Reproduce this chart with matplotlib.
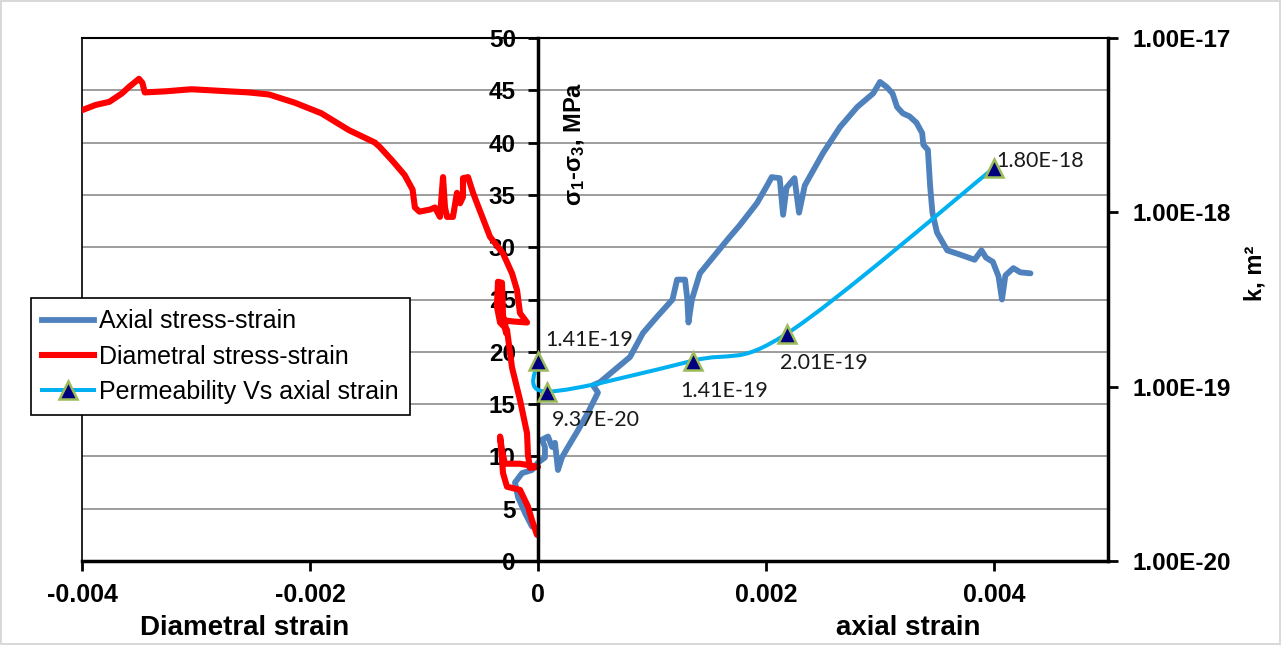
import matplotlib.pyplot as plt
import numpy as np
from matplotlib.path import Path
from matplotlib.patches import PathPatch
from matplotlib.lines import Line2D
from matplotlib.ticker import FuncFormatter, NullLocator

plt.rcParams['font.family'] = ['Liberation Sans', 'DejaVu Sans']
plt.rcParams['mathtext.fontset'] = 'custom'
plt.rcParams['mathtext.rm'] = 'Liberation Sans'
plt.rcParams['mathtext.bf'] = 'Liberation Sans:bold'
plt.rcParams['mathtext.it'] = 'Liberation Sans:italic'

# axial stress-strain
axial_strain = [-0.000053, -0.000114, -0.000175, -0.000202, -0.00014, -0.000053, 0.0, 0.000061, 0.000061, 0.000035,
                0.000088, 0.000123, 0.000149, 0.000175, 0.00021, 0.000263, 0.000351, 0.000439, 0.000526, 0.000482,
                0.000544, 0.000675, 0.000807, 0.000921, 0.00104, 0.00118, 0.00122, 0.00129, 0.00131, 0.00132,
                0.00135, 0.00142, 0.00154, 0.00166, 0.00177, 0.00192, 0.00201, 0.00205, 0.00212, 0.00215,
                0.00218, 0.00225, 0.00229, 0.00234, 0.0025, 0.00265, 0.0028, 0.00294, 0.003, 0.00306,
                0.00311, 0.00315, 0.0032, 0.00326, 0.00332, 0.00337, 0.00338, 0.00342, 0.00344, 0.00346,
                0.0035, 0.00359, 0.0037, 0.00383, 0.00389, 0.00393, 0.00399, 0.00404, 0.00407, 0.0041,
                0.00417, 0.00423, 0.00432]
axial_stress = [3.3, 4.6, 6.1, 7.5, 8.4, 8.7, 9.4, 9.9, 10.9, 11.6,
                11.9, 10.9, 11.3, 8.7, 9.9, 10.9, 12.5, 14.2, 16.1, 16.8,
                17.1, 18.3, 19.5, 21.8, 23.3, 25.0, 26.9, 26.9, 25.0, 22.8,
                25.0, 27.5, 29.1, 30.7, 32.1, 34.2, 35.9, 36.7, 36.6, 33.1,
                35.7, 36.6, 33.3, 35.9, 39.0, 41.5, 43.4, 44.7, 45.8, 45.3,
                44.7, 43.4, 42.8, 42.5, 41.9, 40.9, 39.8, 39.3, 35.8, 33.3,
                31.4, 29.7, 29.3, 28.8, 29.7, 29.0, 28.6, 27.2, 25.0, 27.3,
                28.0, 27.6, 27.5]

# diametral stress-strain
diam_strain = [-0.000009, -0.000053, -0.000088, -0.000158, -0.000272, -0.000307, -0.000316, -0.000333, -0.000316, -0.00029,
               -0.000158, 0.0, -0.00007, -0.000088, -0.000096, -0.000158, -0.000228, -0.000272, -0.000333, -0.00036,
               -0.000351, -0.000316, -0.000307, -0.00028, -0.00029, -0.000219, -0.000096, -0.000158, -0.000184, -0.000228,
               -0.000307, -0.000421, -0.000535, -0.00057, -0.000614, -0.000658, -0.000658, -0.000684, -0.000711, -0.000746,
               -0.000798, -0.000816, -0.000833, -0.00086, -0.000904, -0.000947, -0.00104, -0.00108, -0.0011, -0.00117,
               -0.00128, -0.00139, -0.00143, -0.00166, -0.0019, -0.00213, -0.00236, -0.00254, -0.00271, -0.00304,
               -0.00327, -0.00345, -0.00347, -0.0035, -0.00359, -0.00365, -0.00376, -0.00388, -0.004]
diam_stress = [2.5, 3.9, 5.2, 6.8, 7.1, 8.4, 9.7, 11.9, 10.6, 9.3,
               9.3, 9.0, 8.9, 10.1, 12.2, 15.4, 18.5, 22.1, 22.8, 24.3,
               26.7, 26.6, 23.5, 21.8, 23.0, 22.9, 22.8, 23.7, 25.9, 27.5,
               29.4, 31.0, 34.2, 35.2, 36.7, 36.6, 34.8, 34.2, 35.2, 32.9,
               32.9, 33.8, 36.7, 32.9, 33.8, 33.6, 33.4, 33.8, 35.5, 36.9,
               38.3, 39.6, 40.0, 41.2, 42.8, 43.8, 44.6, 44.8, 44.9, 45.1,
               44.9, 44.8, 45.7, 46.1, 45.3, 44.7, 43.9, 43.6, 43.1]

# permeability vs axial strain
perm_strain = [0.0, 0.00008, 0.00136, 0.00218, 0.0040]
perm_k = [1.41e-19, 9.37e-20, 1.41e-19, 2.01e-19, 1.80e-18]
perm_labels = ['1.41E-19', '9.37E-20', '1.41E-19', '2.01E-19', '1.80E-18']

x_ticks = [-0.004, -0.002, 0, 0.002, 0.004]
x_ticklabels = ['-0.004', '-0.002', '0', '0.002', '0.004']
k_ticks = [1e-20, 1e-19, 1e-18, 1e-17]

W, H = 1281, 645
fig = plt.figure(figsize=(W / 100, H / 100), dpi=100)
fig.patch.set_edgecolor('#D9D9D9')
fig.patch.set_linewidth(1.5)

ax = fig.add_axes([82 / W, 1 - 561 / H, (1108 - 82) / W, (561 - 38) / H])
ax.set_xlim(-0.004, 0.005)
ax.set_ylim(0, 50)

ax.spines['left'].set_position(('data', 0))
ax.spines['left'].set_linewidth(2.5)
ax.spines['bottom'].set_linewidth(2.5)
ax.spines['top'].set_linewidth(1.5)
ax.spines['right'].set_visible(False)
ax.axvline(-0.004, color='black', lw=1.2, clip_on=False)

ax.set_xticks(x_ticks)
ax.set_xticklabels(x_ticklabels)
ax.set_yticks(np.arange(0, 51, 5))
ax.tick_params(axis='x', direction='out', length=7, width=2, pad=9, labelsize=18)
ax.tick_params(axis='y', direction='out', length=7, width=2, pad=9, labelsize=17.5)
for lab in ax.get_xticklabels() + ax.get_yticklabels():
    lab.set_fontweight('bold')

ax.yaxis.grid(True, color='#8C8C8C', lw=1.2)
ax.set_axisbelow(True)

ax.plot(axial_strain, axial_stress, color='#4F81BD', lw=4.2, solid_joinstyle='round', solid_capstyle='round')
ax.plot(diam_strain, diam_stress, color='#FF0000', lw=4.4, solid_joinstyle='round', solid_capstyle='round')

ax2 = ax.twinx()
ax2.set_yscale('log')
ax2.set_ylim(1e-20, 1e-17)
ax2.set_yticks(k_ticks)
ax2.yaxis.set_minor_locator(NullLocator())
ax2.yaxis.set_major_formatter(FuncFormatter(lambda v, p: f'{v:.2E}'))
ax2.tick_params(axis='y', direction='out', length=7, width=2, pad=11, labelsize=17.5)
for lab in ax2.get_yticklabels():
    lab.set_fontweight('bold')
for s in ['left', 'top', 'bottom']:
    ax2.spines[s].set_visible(False)
ax2.spines['right'].set_linewidth(2.5)

# smoothed permeability line (bezier through the points, like Excel smoothing)
pts = ax2.transAxes.inverted().transform(
    ax2.transData.transform(np.column_stack([perm_strain, perm_k])))
verts = [pts[0]]
codes = [Path.MOVETO]
n = len(pts)
for i in range(n - 1):
    p0 = pts[max(i - 1, 0)]
    p1 = pts[i]
    p2 = pts[i + 1]
    p3 = pts[min(i + 2, n - 1)]
    verts += [p1 + (p2 - p0) / 6, p2 - (p3 - p1) / 6, p2]
    codes += [Path.CURVE4] * 3
ax2.add_patch(PathPatch(Path(verts, codes), transform=ax2.transAxes, fill=False,
                        edgecolor='#00B0F0', lw=2.9, zorder=3))
ax2.plot(perm_strain, perm_k, ls='none', marker='^', ms=12.5, mfc='#00007F', mec='#9BBB59', mew=1.8, zorder=4)

offsets = [(7, 21), (5, -28), (-13, -30), (-7, -29), (2, 7)]
for xs, k, t, (dx, dy) in zip(perm_strain, perm_k, perm_labels, offsets):
    ax2.annotate(t, (xs, k), xytext=(dx * 0.72, dy * 0.72), textcoords='offset points',
                 ha='left', va='center', fontfamily='Lato', fontsize=15.5, color='#1A1A1A', zorder=5)

handles = [Line2D([], [], color='#4F81BD', lw=4.2),
           Line2D([], [], color='#FF0000', lw=4.4),
           Line2D([], [], color='#00B0F0', lw=2.9, marker='^', ms=12.5, mfc='#00007F', mec='#9BBB59', mew=1.8)]
leg = ax2.legend(handles, ['Axial stress-strain', 'Diametral stress-strain', 'Permeability Vs axial strain'],
                 loc='upper left', bbox_to_anchor=(31 / W, 1 - 298 / H), bbox_transform=fig.transFigure,
                 frameon=True, fancybox=False, edgecolor='black', framealpha=1, fontsize=18,
                 handlelength=2.05, handletextpad=0.22, labelspacing=0.45, borderpad=0.45, borderaxespad=0)
leg.get_frame().set_linewidth(1.2)

fig.text(245 / W, 1 - 628 / H, 'Diametral strain', ha='center', va='center', fontsize=20, fontweight='bold')
fig.text(908 / W, 1 - 628 / H, 'axial strain', ha='center', va='center', fontsize=20, fontweight='bold')
fig.text(575 / W, 1 - 144 / H, r'$\mathbf{\sigma_1}$-$\mathbf{\sigma_3}$, MPa', rotation=90,
         ha='center', va='center', fontsize=17, fontweight='bold')
fig.text(1255 / W, 1 - 273 / H, 'k, m²', rotation=90, ha='center', va='center', fontsize=17, fontweight='bold')

fig.savefig('out.png', dpi=100)
